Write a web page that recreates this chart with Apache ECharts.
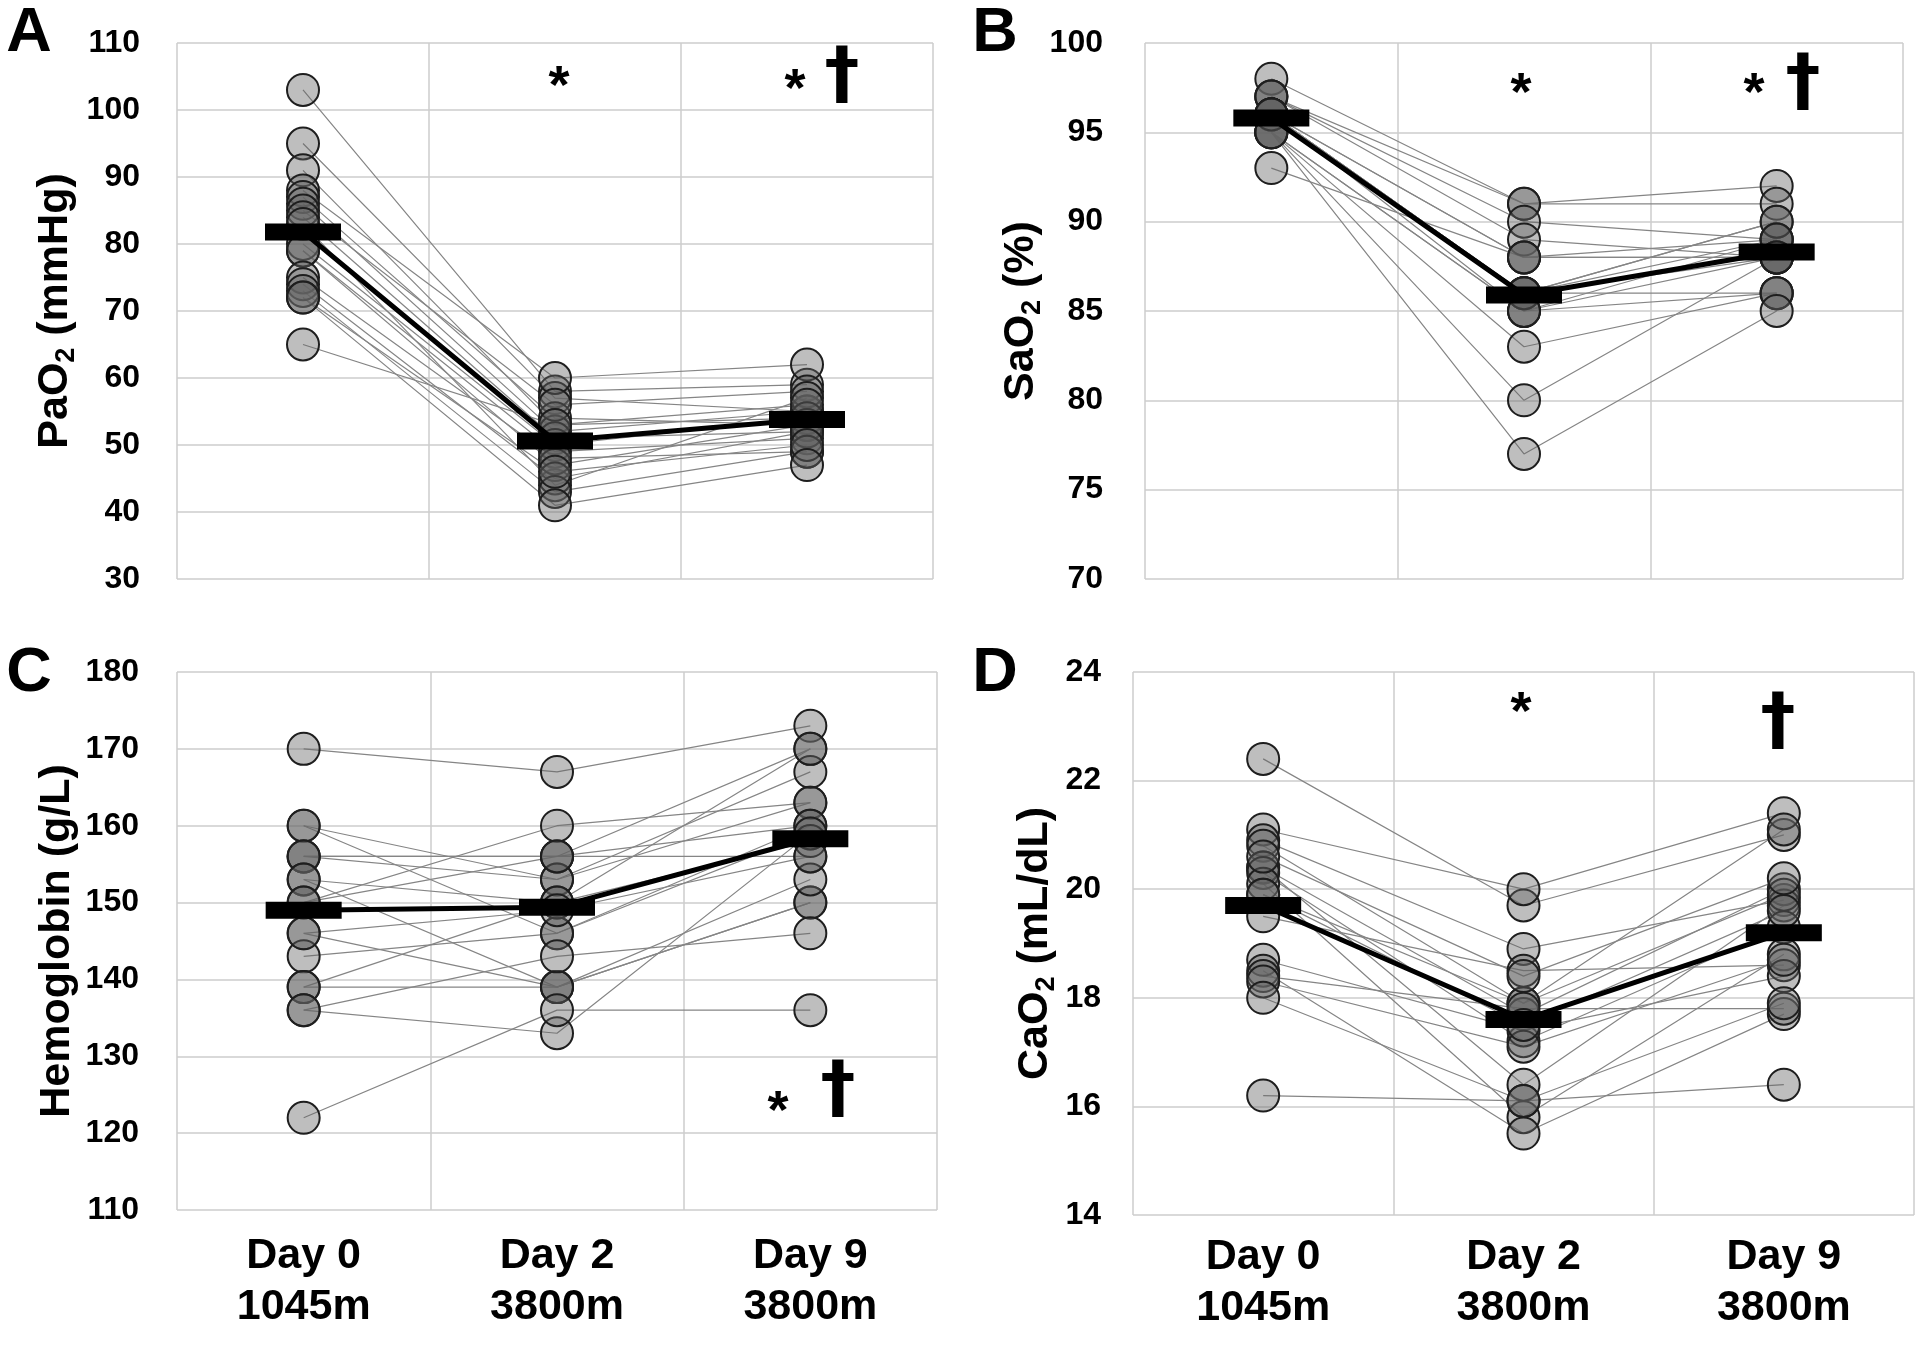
<!DOCTYPE html>
<html>
<head>
<meta charset="utf-8">
<script src="https://cdn.jsdelivr.net/npm/echarts@6/dist/echarts.min.js"></script>
<style>
html,body{margin:0;padding:0;background:#fff;}
#chart{width:1920px;height:1345px;}
</style>
</head>
<body>
<div id="chart"></div>
<script>
// ---------- data ----------
const categories = ['Day 0\n1045m', 'Day 2\n3800m', 'Day 9\n3800m'];

// Panel A: PaO2 (mmHg), one entry per subject
const paO2_day0 = [103, 95, 91, 88, 87, 86, 85, 84, 83, 80, 79, 79, 75, 74, 73, 72, 72, 65];
const paO2_day2 = [58, 57, 53, 60, 54, 52, 56, 51, 44, 50, 49, 47, 48, 45, 43, 46, 41, 53];
const paO2_day9 = [59, 55, 54, 62, 53, 55, 58, 52, 57, 54, 51, 53, 49, 52, 49, 50, 47, 56];
const paO2_mean = [81.8, 50.6, 53.8];

// Panel B: SaO2 (%)
const saO2_day0 = [98, 97, 97, 97, 96, 96, 96, 96, 96, 96, 96, 95, 95, 95, 95, 96, 95, 93];
const saO2_day2 = [91, 91, 90, 89, 88, 88, 86, 86, 86, 86, 85, 85, 83, 80, 77, 86, 85, 88];
const saO2_day9 = [92, 91, 89, 88, 88, 89, 86, 90, 88, 89, 88, 86, 86, 88, 85, 90, 89, 88];
const saO2_mean = [95.8, 85.9, 88.3];

// Panel C: Hemoglobin (g/L)
const hb_day0 = [170, 160, 160, 156, 156, 156, 153, 153, 150, 150, 146, 143, 139, 139, 136, 136, 122, 146];
const hb_day2 = [167, 153, 146, 156, 156, 153, 150, 139, 160, 156, 139, 146, 139, 150, 143, 133, 136, 149];
const hb_day9 = [173, 163, 159, 170, 156, 167, 170, 150, 163, 160, 150, 160, 153, 158, 146, 159, 136, 156];
const hb_mean = [149.0, 149.4, 158.3];

// Panel D: CaO2 (mL/dL)
const caO2_day0 = [22.4, 21.1, 20.9, 20.8, 20.4, 20.4, 20.3, 20.1, 19.9, 19.5, 18.7, 18.5, 18.4, 18.3, 18.0, 16.2, 19.9, 20.6];
const caO2_day2 = [19.7, 20.0, 18.9, 17.9, 17.7, 16.4, 17.2, 15.8, 17.9, 18.5, 17.4, 15.5, 17.8, 17.1, 16.1, 16.1, 17.5, 18.4];
const caO2_day9 = [21.0, 21.4, 19.8, 21.1, 20.0, 19.7, 19.3, 18.8, 19.9, 18.6, 18.4, 17.7, 17.8, 18.7, 17.9, 16.4, 19.6, 20.2];
const caO2_mean = [19.7, 17.6, 19.2];

// axis ranges / ticks
const axisA = {min: 30, max: 110, interval: 10};
const axisB = {min: 70, max: 100, interval: 5};
const axisC = {min: 110, max: 180, interval: 10};
const axisD = {min: 14, max: 24, interval: 2};

// ---------- styling ----------
const FONT = "'Liberation Sans', Arial, Helvetica, sans-serif";
const DAGGER_FONT = "'DejaVu Sans', 'Liberation Sans', sans-serif";
const GRID_COLOR = '#cccccc';

const panels = [
  {days: [paO2_day0, paO2_day2, paO2_day9], mean: paO2_mean, axis: axisA,
   grid: {left: 177, top: 43, width: 756, height: 536},
   title: '{a|PaO}{s|2}{a| (mmHg)}', nameGap: 97, labelMargin: 37, showX: false, xMargin: 22},
  {days: [saO2_day0, saO2_day2, saO2_day9], mean: saO2_mean, axis: axisB,
   grid: {left: 1145, top: 43, width: 758, height: 536},
   title: '{a|SaO}{s|2}{a| (%)}', nameGap: 94, labelMargin: 42, showX: false, xMargin: 22},
  {days: [hb_day0, hb_day2, hb_day9], mean: hb_mean, axis: axisC,
   grid: {left: 177, top: 672, width: 760, height: 538},
   title: '{a|Hemoglobin (g/L)}', nameGap: 95, labelMargin: 38, showX: true, xMargin: 21},
  {days: [caO2_day0, caO2_day2, caO2_day9], mean: caO2_mean, axis: axisD,
   grid: {left: 1133, top: 672, width: 781, height: 543},
   title: '{a|CaO}{s|2}{a| (mL/dL)}', nameGap: 73, labelMargin: 32, showX: true, xMargin: 17}
];

const grids = [], xAxes = [], yAxes = [], series = [];

panels.forEach((p, k) => {
  grids.push(Object.assign({containLabel: false}, p.grid));
  xAxes.push({
    type: 'category', gridIndex: k, data: categories, boundaryGap: true,
    axisLine: {show: false}, axisTick: {show: false},
    splitLine: {show: true, interval: 0, lineStyle: {color: GRID_COLOR, width: 1.5}},
    axisLabel: {show: p.showX, interval: 0, margin: p.xMargin, fontFamily: FONT, fontWeight: 'bold',
      fontSize: 43, lineHeight: 51, color: '#000'}
  });
  yAxes.push({
    type: 'value', gridIndex: k, min: p.axis.min, max: p.axis.max, interval: p.axis.interval,
    axisLine: {show: false}, axisTick: {show: false},
    splitLine: {show: true, lineStyle: {color: GRID_COLOR, width: 1.5}},
    axisLabel: {margin: p.labelMargin, fontFamily: FONT, fontWeight: 'bold', fontSize: 32, color: '#000'},
    name: p.title, nameLocation: 'middle', nameRotate: 90, nameGap: p.nameGap,
    nameTextStyle: {
      rich: {
        a: {fontFamily: FONT, fontWeight: 'bold', fontSize: 43, lineHeight: 49, color: '#000'},
        s: {fontFamily: FONT, fontWeight: 'bold', fontSize: 27, lineHeight: 49, verticalAlign: 'bottom', color: '#000'}
      }
    }
  });

  const n = p.days[0].length;
  // individual subject lines
  for (let i = 0; i < n; i++) {
    series.push({
      type: 'line', xAxisIndex: k, yAxisIndex: k, silent: true, z: 2,
      data: [p.days[0][i], p.days[1][i], p.days[2][i]],
      showSymbol: false, symbol: 'none',
      lineStyle: {color: '#858585', width: 1.2}
    });
  }
  // individual subject circles
  const pts = [];
  p.days.forEach((arr, d) => arr.forEach(v => pts.push([d, v])));
  series.push({
    type: 'scatter', xAxisIndex: k, yAxisIndex: k, silent: true, z: 3,
    data: pts, symbol: 'circle', symbolSize: 32,
    itemStyle: {color: 'rgba(100,100,100,0.42)', borderColor: '#1e1e1e', borderWidth: 2, opacity: 1}
  });
  // group mean
  series.push({
    type: 'line', xAxisIndex: k, yAxisIndex: k, silent: true, z: 5,
    data: p.mean, symbol: 'rect', symbolSize: [76, 17], showSymbol: true,
    itemStyle: {color: '#000'}, lineStyle: {color: '#000', width: 5}
  });
});

function txt(str, x, y, size, family) {
  return {type: 'text', x: x, y: y, z: 10, silent: true,
    style: {text: str, fill: '#000', font: 'bold ' + size + 'px ' + (family || FONT), align: 'center', verticalAlign: 'middle'}};
}

const graphics = [
  txt('A', 29, 34, 63), txt('B', 995, 34, 63), txt('C', 29, 674, 63), txt('D', 995, 674, 63),
  // panel A
  txt('*', 559, 88, 54), txt('*', 795, 91, 54), txt('\u2020', 842, 78, 70, DAGGER_FONT),
  // panel B
  txt('*', 1521, 95, 54), txt('*', 1754, 95, 54), txt('\u2020', 1803, 85, 70, DAGGER_FONT),
  // panel C
  txt('*', 778, 1113, 54), txt('\u2020', 838, 1092, 70, DAGGER_FONT),
  // panel D
  txt('*', 1521, 714, 54), txt('\u2020', 1778, 724, 70, DAGGER_FONT)
];

const chart = echarts.init(document.getElementById('chart'), null, {renderer: 'canvas'});
chart.setOption({
  animation: false,
  backgroundColor: '#fff',
  grid: grids, xAxis: xAxes, yAxis: yAxes, series: series,
  graphic: graphics
});
</script>
</body>
</html>
